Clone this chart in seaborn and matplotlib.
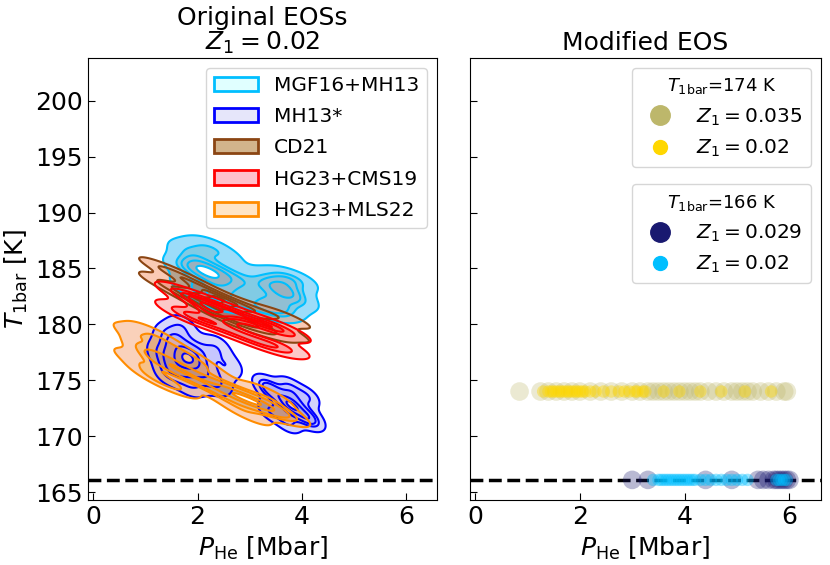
import matplotlib
matplotlib.use("Agg")
import matplotlib.pyplot as plt
from matplotlib.patches import Patch
from matplotlib.lines import Line2D
import pandas as pd
import seaborn as sns

sns.set_style("white")
plt.rcParams['font.family'] = ['DejaVu Sans']
plt.rcParams['mathtext.fontset'] = 'dejavusans'
plt.rcParams['text.color'] = 'black'
plt.rcParams['axes.labelcolor'] = 'black'
plt.rcParams['xtick.color'] = 'black'
plt.rcParams['ytick.color'] = 'black'

# ---------------- data: left panel (posterior samples, P_He [Mbar], T_1bar [K]) ----------------
eos_names = ["MGF16+MH13", "MH13*", "CD21", "HG23+CMS19", "HG23+MLS22"]
eos_line_colors = ["deepskyblue", "blue", "saddlebrown", "red", "darkorange"]
eos_patch_colors = ["lightcyan", "lavender", "tan", "pink", "bisque"]

mgf_P = [2.15, 2.15, 1.8, 2.5, 1.8, 2.5, 2.15, 2.15, 1.7, 2.6, 1.95, 2.35, 2.5,
         3.65, 3.65, 3.35, 3.95, 3.35, 3.95, 3.65, 3.65, 2.9, 3.0, 3.5]
mgf_T = [184.8, 184.8, 186.8, 183.1, 183.6, 186.2, 187.2, 182.4, 185.2, 184.6, 185.8, 183.8, 182.0,
         183.0, 183.0, 184.0, 182.0, 182.1, 183.8, 181.4, 184.4, 183.6, 181.6, 181.0]

mh_a_P = [1.85, 1.8, 1.45, 1.65, 2.1, 2.4, 1.45, 2.35, 1.3, 2.6, 1.9, 1.7, 2.0, 1.6]
mh_a_T = [176.9, 176.8, 179.0, 178.0, 175.8, 174.6, 175.6, 178.0, 177.5, 176.2, 174.5, 179.8, 177.5, 176.3]
mh_b_P = [3.75, 3.8, 3.45, 4.05, 3.4, 4.1, 3.3, 4.2, 3.75, 3.75]
mh_b_T = [172.9, 172.8, 173.9, 171.9, 172.3, 173.5, 174.6, 171.4, 171.2, 174.4]

cd_P = [1.3, 1.3, 1.6, 1.6, 1.9, 1.9, 2.2, 2.2, 2.2, 2.5, 2.5, 2.8, 2.8, 3.1, 3.1, 3.4, 3.4,
        3.8, 3.8, 1.9, 2.5, 2.8]
cd_T = [185.1, 183.8, 184.5, 183.1, 183.7, 182.3, 183.0, 181.5, 182.3, 182.3, 180.8, 181.7, 180.2,
        181.2, 179.8, 180.9, 179.4, 180.5, 179.2, 183.0, 181.6, 181.0]

cms_P = [1.65, 1.65, 1.9, 1.9, 2.3, 2.3, 2.3, 2.3, 2.7, 2.7, 3.1, 3.1, 3.45, 3.45, 3.7, 3.7]
cms_T = [182.9, 181.3, 182.3, 180.6, 181.8, 180.1, 181.0, 181.0, 181.0, 179.3, 180.3, 178.6,
         179.7, 178.0, 179.4, 178.0]

mls_P = [1.44, 1.44, 0.85, 1.1, 1.8, 2.1, 0.85, 1.2, 1.75, 1.15, 1.5, 2.05,
         2.5, 2.6, 3.08, 3.08, 2.8, 3.4, 2.95, 3.35, 3.6]
mls_T = [176.5, 176.5, 179.0, 177.6, 175.4, 174.9, 176.8, 175.3, 177.4, 179.2, 174.6, 176.3,
         174.3, 173.5, 173.0, 173.0, 173.8, 172.5, 172.0, 173.8, 172.3]

# ---------------- data: right panel ----------------
T_hi = 174.0
T_lo = 166.1
P_hi_z035 = [0.85, 1.25, 1.4, 1.55, 1.7, 1.85, 2.0, 2.2, 2.4, 2.6, 2.8, 3.0, 3.15, 3.3, 3.4, 3.5,
             3.6, 3.7, 3.8, 3.9, 4.0, 4.1, 4.2, 4.3, 4.45, 4.6, 4.75, 4.9, 5.0, 5.1, 5.2, 5.3,
             5.45, 5.6, 5.75, 5.9, 5.95]
P_hi_z02 = [1.3, 1.4, 1.45, 1.5, 1.55, 1.6, 1.65, 1.7, 1.75, 1.8, 1.85, 1.9, 1.95, 2.0, 2.05,
            2.1, 2.2, 2.3, 2.45, 2.6, 2.75, 2.85, 2.95, 3.05, 3.1, 3.2, 3.25, 3.6, 3.9, 4.3,
            4.7, 5.15, 5.65]
P_lo_z029 = [3.0, 3.3, 4.4, 4.9, 5.4, 5.5, 5.6, 5.7, 5.75, 5.8, 5.85, 5.9, 5.95, 6.0]
P_lo_z02 = [3.4, 3.5, 3.55, 3.6, 3.65, 3.7, 3.75, 3.8, 3.85, 3.9, 3.95, 4.0, 4.05, 4.1, 4.15,
            4.2, 4.3, 4.4, 4.5, 4.6, 4.7, 4.8, 4.9, 5.0, 5.1, 5.2, 5.75, 5.8, 5.85, 5.9, 5.95]

dashed_T = 166.1
kde_levels = [0.1, 0.35, 0.6, 0.85, 0.97]

fig = plt.figure(figsize=(8.3, 5.65), dpi=100)
ax1 = fig.add_axes([0.106, 0.115, 0.421, 0.782])
ax2 = fig.add_axes([0.566, 0.115, 0.423, 0.782], sharey=ax1)

# (samples P, samples T, colour, bandwidth adjustment)
kde_sets = [(mgf_P, mgf_T, "deepskyblue", 0.75),
            (mh_a_P, mh_a_T, "blue", 0.85),
            (mh_b_P, mh_b_T, "blue", 0.85),
            (cd_P, cd_T, "saddlebrown", 0.85),
            (cms_P, cms_T, "red", 0.85),
            (mls_P, mls_T, "darkorange", 0.75)]

for P, T, lc, bw in kde_sets:
    df = pd.DataFrame({"P": P, "T": T})
    sns.kdeplot(data=df, x="P", y="T", ax=ax1, fill=True, color=lc, alpha=0.5,
                levels=kde_levels, bw_adjust=bw)
    sns.kdeplot(data=df, x="P", y="T", ax=ax1, fill=False, color=lc, linewidths=1.5,
                levels=kde_levels, bw_adjust=bw)

handles = [Patch(facecolor=fc, edgecolor=ec, linewidth=2, label=n)
           for n, ec, fc in zip(eos_names, eos_line_colors, eos_patch_colors)]
ax1.legend(handles=handles, loc="upper right", fontsize=14.5, frameon=True, handlelength=2.2,
           labelspacing=0.6)

for ax in (ax1, ax2):
    ax.axhline(dashed_T, color="black", ls="--", lw=2.5, zorder=5)

sns.scatterplot(x=P_hi_z035, y=[T_hi] * len(P_hi_z035), ax=ax2, color="darkkhaki", s=180,
                alpha=0.3, edgecolor="none", zorder=3)
sns.scatterplot(x=P_hi_z02, y=[T_hi] * len(P_hi_z02), ax=ax2, color="gold", s=80,
                alpha=0.4, edgecolor="none", zorder=3)
sns.scatterplot(x=P_lo_z029, y=[T_lo] * len(P_lo_z029), ax=ax2, color="midnightblue", s=180,
                alpha=0.3, edgecolor="none", zorder=6)
sns.scatterplot(x=P_lo_z02, y=[T_lo] * len(P_lo_z02), ax=ax2, color="deepskyblue", s=80,
                alpha=0.4, edgecolor="none", zorder=6)

h1 = [Line2D([], [], marker="o", ls="none", color="darkkhaki", ms=14, label=r"$Z_1=0.035$"),
      Line2D([], [], marker="o", ls="none", color="gold", ms=10, label=r"$Z_1=0.02$")]
h2 = [Line2D([], [], marker="o", ls="none", color="midnightblue", ms=14, label=r"$Z_1=0.029$"),
      Line2D([], [], marker="o", ls="none", color="deepskyblue", ms=10, label=r"$Z_1=0.02$")]
leg1 = ax2.legend(handles=h1, loc="upper right", fontsize=14.5, title=r"$T_{\rm 1bar}$=174 K",
                  title_fontsize=13)
ax2.add_artist(leg1)
ax2.legend(handles=h2, loc="upper right", bbox_to_anchor=(1.0, 0.737), fontsize=14.5,
           title=r"$T_{\rm 1bar}$=166 K", title_fontsize=13)

for ax in (ax1, ax2):
    ax.set_xlim(-0.1, 6.6)
    ax.set_xticks([0, 2, 4, 6])
    ax.tick_params(direction="in", labelsize=18, length=5, left=True, bottom=True)
    ax.set_xlabel(r"$P_{\rm He}$ [Mbar]", fontsize=18)
    for s in ax.spines.values():
        s.set_color("black")
ax1.set_ylim(164.3, 203.8)
ax1.set_yticks([165, 170, 175, 180, 185, 190, 195, 200])
ax1.set_ylabel(r"$T_{\rm 1bar}$ [K]", fontsize=18)
ax2.set_ylabel("")
ax2.tick_params(labelleft=False)
ax1.set_title("Original EOSs\n" + r"$Z_1=0.02$", fontsize=18, linespacing=1.0)
ax2.set_title("Modified EOS", fontsize=18)

fig.savefig("out.png", dpi=100)
